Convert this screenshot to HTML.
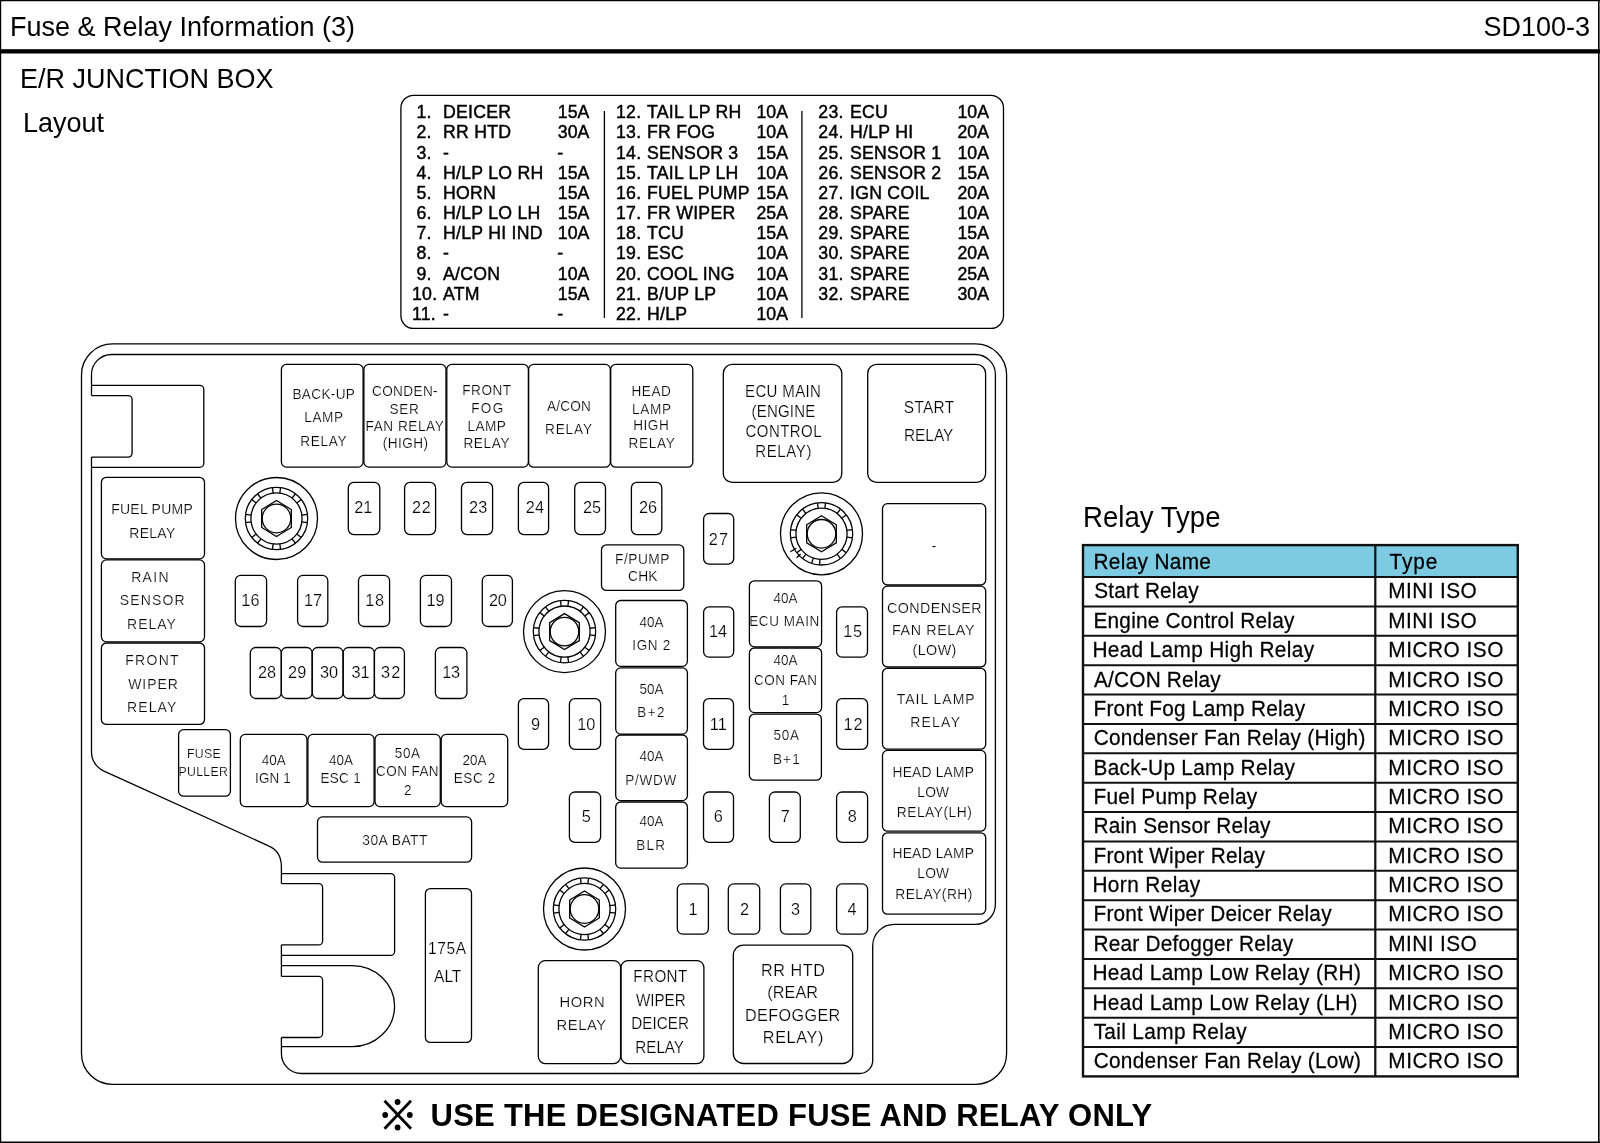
<!DOCTYPE html>
<html><head><meta charset="utf-8"><title>Fuse &amp; Relay Information (3)</title>
<style>
html,body{margin:0;padding:0;background:#fff;}
body{width:1600px;height:1143px;overflow:hidden;}
svg{display:block;will-change:transform;}
text{font-family:"Liberation Sans",sans-serif;fill:#000;}
.hv{stroke:#000;stroke-width:0.45px;letter-spacing:0.25px;}
.hn{stroke:#000;stroke-width:0.45px;}
.lt{stroke:#fff;stroke-width:0.2px;}
.tb{stroke:#000;stroke-width:0.25px;}
.l{fill:none;stroke:#000;stroke-width:1.3;}
</style></head>
<body>
<svg width="1600" height="1143" viewBox="0 0 1600 1143">
<rect x="0" y="49.2" width="1600" height="4.3" fill="#000"/>
<line x1="0" y1="0.5" x2="1600" y2="0.5" stroke="#000" stroke-width="1.4"/>
<line x1="0.5" y1="0" x2="0.5" y2="1143" stroke="#000" stroke-width="1.4"/>
<line x1="1598.8" y1="0" x2="1598.8" y2="1143" stroke="#000" stroke-width="1.6"/>
<line x1="0" y1="1142.3" x2="1600" y2="1142.3" stroke="#000" stroke-width="1.6"/>
<text transform="matrix(1 0 0 1.04 10.00 36.00)" font-size="27" text-anchor="start">Fuse &amp; Relay Information (3)</text>
<text transform="matrix(1 0 0 1.04 1590.00 36.00)" font-size="27" text-anchor="end">SD100-3</text>
<text transform="matrix(1 0 0 1.04 20.00 88.00)" font-size="27" text-anchor="start">E/R JUNCTION BOX</text>
<text transform="matrix(1 0 0 1.04 23.00 132.00)" font-size="27" text-anchor="start">Layout</text>
<rect x="400.9" y="95.3" width="602.6" height="233.1" rx="12.6" ry="12.6" class="l"/>
<line x1="604.4" y1="111" x2="604.4" y2="318" class="l"/>
<line x1="801.9" y1="111" x2="801.9" y2="318" class="l"/>
<text transform="matrix(1 0 0 1.04 416.50 117.80)" font-size="17.7" text-anchor="start" class="hv">1.</text>
<text transform="matrix(1 0 0 1.04 443.00 117.80)" font-size="17.7" text-anchor="start" class="hv">DEICER</text>
<text transform="matrix(1 0 0 1.04 589.30 117.80)" font-size="17.7" text-anchor="end" class="hn">15A</text>
<text transform="matrix(1 0 0 1.04 416.50 138.40)" font-size="17.7" text-anchor="start" class="hv">2.</text>
<text transform="matrix(1 0 0 1.04 443.00 138.40)" font-size="17.7" text-anchor="start" class="hv">RR HTD</text>
<text transform="matrix(1 0 0 1.04 589.30 138.40)" font-size="17.7" text-anchor="end" class="hn">30A</text>
<text transform="matrix(1 0 0 1.04 416.50 158.60)" font-size="17.7" text-anchor="start" class="hv">3.</text>
<text transform="matrix(1 0 0 1.04 443.00 158.60)" font-size="17.7" text-anchor="start" class="hv">-</text>
<text transform="matrix(1 0 0 1.04 557.20 158.60)" font-size="17.7" text-anchor="start" class="hn">-</text>
<text transform="matrix(1 0 0 1.04 416.50 178.60)" font-size="17.7" text-anchor="start" class="hv">4.</text>
<text transform="matrix(1 0 0 1.04 443.00 178.60)" font-size="17.7" text-anchor="start" class="hv">H/LP LO RH</text>
<text transform="matrix(1 0 0 1.04 589.30 178.60)" font-size="17.7" text-anchor="end" class="hn">15A</text>
<text transform="matrix(1 0 0 1.04 416.50 198.70)" font-size="17.7" text-anchor="start" class="hv">5.</text>
<text transform="matrix(1 0 0 1.04 443.00 198.70)" font-size="17.7" text-anchor="start" class="hv">HORN</text>
<text transform="matrix(1 0 0 1.04 589.30 198.70)" font-size="17.7" text-anchor="end" class="hn">15A</text>
<text transform="matrix(1 0 0 1.04 416.50 218.80)" font-size="17.7" text-anchor="start" class="hv">6.</text>
<text transform="matrix(1 0 0 1.04 443.00 218.80)" font-size="17.7" text-anchor="start" class="hv">H/LP LO LH</text>
<text transform="matrix(1 0 0 1.04 589.30 218.80)" font-size="17.7" text-anchor="end" class="hn">15A</text>
<text transform="matrix(1 0 0 1.04 416.50 238.70)" font-size="17.7" text-anchor="start" class="hv">7.</text>
<text transform="matrix(1 0 0 1.04 443.00 238.70)" font-size="17.7" text-anchor="start" class="hv">H/LP HI IND</text>
<text transform="matrix(1 0 0 1.04 589.30 238.70)" font-size="17.7" text-anchor="end" class="hn">10A</text>
<text transform="matrix(1 0 0 1.04 416.50 258.60)" font-size="17.7" text-anchor="start" class="hv">8.</text>
<text transform="matrix(1 0 0 1.04 443.00 258.60)" font-size="17.7" text-anchor="start" class="hv">-</text>
<text transform="matrix(1 0 0 1.04 557.20 258.60)" font-size="17.7" text-anchor="start" class="hn">-</text>
<text transform="matrix(1 0 0 1.04 416.50 279.60)" font-size="17.7" text-anchor="start" class="hv">9.</text>
<text transform="matrix(1 0 0 1.04 443.00 279.60)" font-size="17.7" text-anchor="start" class="hv">A/CON</text>
<text transform="matrix(1 0 0 1.04 589.30 279.60)" font-size="17.7" text-anchor="end" class="hn">10A</text>
<text transform="matrix(1 0 0 1.04 412.00 299.50)" font-size="17.7" text-anchor="start" class="hv">10.</text>
<text transform="matrix(1 0 0 1.04 443.00 299.50)" font-size="17.7" text-anchor="start" class="hv">ATM</text>
<text transform="matrix(1 0 0 1.04 589.30 299.50)" font-size="17.7" text-anchor="end" class="hn">15A</text>
<text transform="matrix(1 0 0 1.04 412.00 319.50)" font-size="17.7" text-anchor="start" class="hv">11.</text>
<text transform="matrix(1 0 0 1.04 443.00 319.50)" font-size="17.7" text-anchor="start" class="hv">-</text>
<text transform="matrix(1 0 0 1.04 557.20 319.50)" font-size="17.7" text-anchor="start" class="hn">-</text>
<text transform="matrix(1 0 0 1.04 616.00 117.80)" font-size="17.7" text-anchor="start" class="hv">12.</text>
<text transform="matrix(1 0 0 1.04 647.00 117.80)" font-size="17.7" text-anchor="start" class="hv">TAIL LP RH</text>
<text transform="matrix(1 0 0 1.04 788.00 117.80)" font-size="17.7" text-anchor="end" class="hn">10A</text>
<text transform="matrix(1 0 0 1.04 616.00 138.40)" font-size="17.7" text-anchor="start" class="hv">13.</text>
<text transform="matrix(1 0 0 1.04 647.00 138.40)" font-size="17.7" text-anchor="start" class="hv">FR FOG</text>
<text transform="matrix(1 0 0 1.04 788.00 138.40)" font-size="17.7" text-anchor="end" class="hn">10A</text>
<text transform="matrix(1 0 0 1.04 616.00 158.60)" font-size="17.7" text-anchor="start" class="hv">14.</text>
<text transform="matrix(1 0 0 1.04 647.00 158.60)" font-size="17.7" text-anchor="start" class="hv">SENSOR 3</text>
<text transform="matrix(1 0 0 1.04 788.00 158.60)" font-size="17.7" text-anchor="end" class="hn">15A</text>
<text transform="matrix(1 0 0 1.04 616.00 178.60)" font-size="17.7" text-anchor="start" class="hv">15.</text>
<text transform="matrix(1 0 0 1.04 647.00 178.60)" font-size="17.7" text-anchor="start" class="hv">TAIL LP LH</text>
<text transform="matrix(1 0 0 1.04 788.00 178.60)" font-size="17.7" text-anchor="end" class="hn">10A</text>
<text transform="matrix(1 0 0 1.04 616.00 198.70)" font-size="17.7" text-anchor="start" class="hv">16.</text>
<text transform="matrix(1 0 0 1.04 647.00 198.70)" font-size="17.7" text-anchor="start" class="hv">FUEL PUMP</text>
<text transform="matrix(1 0 0 1.04 788.00 198.70)" font-size="17.7" text-anchor="end" class="hn">15A</text>
<text transform="matrix(1 0 0 1.04 616.00 218.80)" font-size="17.7" text-anchor="start" class="hv">17.</text>
<text transform="matrix(1 0 0 1.04 647.00 218.80)" font-size="17.7" text-anchor="start" class="hv">FR WIPER</text>
<text transform="matrix(1 0 0 1.04 788.00 218.80)" font-size="17.7" text-anchor="end" class="hn">25A</text>
<text transform="matrix(1 0 0 1.04 616.00 238.70)" font-size="17.7" text-anchor="start" class="hv">18.</text>
<text transform="matrix(1 0 0 1.04 647.00 238.70)" font-size="17.7" text-anchor="start" class="hv">TCU</text>
<text transform="matrix(1 0 0 1.04 788.00 238.70)" font-size="17.7" text-anchor="end" class="hn">15A</text>
<text transform="matrix(1 0 0 1.04 616.00 258.60)" font-size="17.7" text-anchor="start" class="hv">19.</text>
<text transform="matrix(1 0 0 1.04 647.00 258.60)" font-size="17.7" text-anchor="start" class="hv">ESC</text>
<text transform="matrix(1 0 0 1.04 788.00 258.60)" font-size="17.7" text-anchor="end" class="hn">10A</text>
<text transform="matrix(1 0 0 1.04 616.00 279.60)" font-size="17.7" text-anchor="start" class="hv">20.</text>
<text transform="matrix(1 0 0 1.04 647.00 279.60)" font-size="17.7" text-anchor="start" class="hv">COOL ING</text>
<text transform="matrix(1 0 0 1.04 788.00 279.60)" font-size="17.7" text-anchor="end" class="hn">10A</text>
<text transform="matrix(1 0 0 1.04 616.00 299.50)" font-size="17.7" text-anchor="start" class="hv">21.</text>
<text transform="matrix(1 0 0 1.04 647.00 299.50)" font-size="17.7" text-anchor="start" class="hv">B/UP LP</text>
<text transform="matrix(1 0 0 1.04 788.00 299.50)" font-size="17.7" text-anchor="end" class="hn">10A</text>
<text transform="matrix(1 0 0 1.04 616.00 319.50)" font-size="17.7" text-anchor="start" class="hv">22.</text>
<text transform="matrix(1 0 0 1.04 647.00 319.50)" font-size="17.7" text-anchor="start" class="hv">H/LP</text>
<text transform="matrix(1 0 0 1.04 788.00 319.50)" font-size="17.7" text-anchor="end" class="hn">10A</text>
<text transform="matrix(1 0 0 1.04 818.30 117.80)" font-size="17.7" text-anchor="start" class="hv">23.</text>
<text transform="matrix(1 0 0 1.04 850.00 117.80)" font-size="17.7" text-anchor="start" class="hv">ECU</text>
<text transform="matrix(1 0 0 1.04 989.00 117.80)" font-size="17.7" text-anchor="end" class="hn">10A</text>
<text transform="matrix(1 0 0 1.04 818.30 138.40)" font-size="17.7" text-anchor="start" class="hv">24.</text>
<text transform="matrix(1 0 0 1.04 850.00 138.40)" font-size="17.7" text-anchor="start" class="hv">H/LP HI</text>
<text transform="matrix(1 0 0 1.04 989.00 138.40)" font-size="17.7" text-anchor="end" class="hn">20A</text>
<text transform="matrix(1 0 0 1.04 818.30 158.60)" font-size="17.7" text-anchor="start" class="hv">25.</text>
<text transform="matrix(1 0 0 1.04 850.00 158.60)" font-size="17.7" text-anchor="start" class="hv">SENSOR 1</text>
<text transform="matrix(1 0 0 1.04 989.00 158.60)" font-size="17.7" text-anchor="end" class="hn">10A</text>
<text transform="matrix(1 0 0 1.04 818.30 178.60)" font-size="17.7" text-anchor="start" class="hv">26.</text>
<text transform="matrix(1 0 0 1.04 850.00 178.60)" font-size="17.7" text-anchor="start" class="hv">SENSOR 2</text>
<text transform="matrix(1 0 0 1.04 989.00 178.60)" font-size="17.7" text-anchor="end" class="hn">15A</text>
<text transform="matrix(1 0 0 1.04 818.30 198.70)" font-size="17.7" text-anchor="start" class="hv">27.</text>
<text transform="matrix(1 0 0 1.04 850.00 198.70)" font-size="17.7" text-anchor="start" class="hv">IGN COIL</text>
<text transform="matrix(1 0 0 1.04 989.00 198.70)" font-size="17.7" text-anchor="end" class="hn">20A</text>
<text transform="matrix(1 0 0 1.04 818.30 218.80)" font-size="17.7" text-anchor="start" class="hv">28.</text>
<text transform="matrix(1 0 0 1.04 850.00 218.80)" font-size="17.7" text-anchor="start" class="hv">SPARE</text>
<text transform="matrix(1 0 0 1.04 989.00 218.80)" font-size="17.7" text-anchor="end" class="hn">10A</text>
<text transform="matrix(1 0 0 1.04 818.30 238.70)" font-size="17.7" text-anchor="start" class="hv">29.</text>
<text transform="matrix(1 0 0 1.04 850.00 238.70)" font-size="17.7" text-anchor="start" class="hv">SPARE</text>
<text transform="matrix(1 0 0 1.04 989.00 238.70)" font-size="17.7" text-anchor="end" class="hn">15A</text>
<text transform="matrix(1 0 0 1.04 818.30 258.60)" font-size="17.7" text-anchor="start" class="hv">30.</text>
<text transform="matrix(1 0 0 1.04 850.00 258.60)" font-size="17.7" text-anchor="start" class="hv">SPARE</text>
<text transform="matrix(1 0 0 1.04 989.00 258.60)" font-size="17.7" text-anchor="end" class="hn">20A</text>
<text transform="matrix(1 0 0 1.04 818.30 279.60)" font-size="17.7" text-anchor="start" class="hv">31.</text>
<text transform="matrix(1 0 0 1.04 850.00 279.60)" font-size="17.7" text-anchor="start" class="hv">SPARE</text>
<text transform="matrix(1 0 0 1.04 989.00 279.60)" font-size="17.7" text-anchor="end" class="hn">25A</text>
<text transform="matrix(1 0 0 1.04 818.30 299.50)" font-size="17.7" text-anchor="start" class="hv">32.</text>
<text transform="matrix(1 0 0 1.04 850.00 299.50)" font-size="17.7" text-anchor="start" class="hv">SPARE</text>
<text transform="matrix(1 0 0 1.04 989.00 299.50)" font-size="17.7" text-anchor="end" class="hn">30A</text>
<rect x="81.5" y="343.9" width="925.1" height="740.5" rx="31" ry="31" class="l"/>
<path d="M 91.5 374.5 A 20 20 0 0 1 111.5 354.5 L 975.4 354.5 A 20 20 0 0 1 995.4 374.5 L 995.4 904.3 A 20 20 0 0 1 975.4 924.3 L 894.2 924.3 A 21.5 21.5 0 0 0 872.7 945.8 L 872.7 1060.3 A 13 13 0 0 1 859.7 1073.5 L 301.4 1073.5 A 20 20 0 0 1 281.4 1053.5 L 281.4 1037.5 M 281.4 976.4 L 281.4 944.9 M 281.4 883.6 L 281.4 866 Q 281 851 268.5 845.8 L 104 771.2 Q 92 765 91.5 752.5 L 91.5 457.1 M 91.5 395.6 L 91.5 374.5" class="l"/>
<path d="M 91.5 385.4 L 199.8 385.4 A 4 4 0 0 1 203.8 389.4 L 203.8 463.3 A 4 4 0 0 1 199.8 467.3 L 91.5 467.3" class="l"/>
<path d="M 91.5 395.6 L 128.1 395.6 A 4 4 0 0 1 132.1 399.6 L 132.1 453.1 A 4 4 0 0 1 128.1 457.1 L 91.5 457.1" class="l"/>
<path d="M 281.4 873.6 L 390.6 873.6 A 4 4 0 0 1 394.6 877.6 L 394.6 951.4 A 4 4 0 0 1 390.6 955.4 L 281.4 955.4" class="l"/>
<path d="M 281.4 883.6 L 318.6 883.6 A 4 4 0 0 1 322.6 887.6 L 322.6 940.9 A 4 4 0 0 1 318.6 944.9 L 281.4 944.9" class="l"/>
<path d="M 281.4 976.4 L 318.6 976.4 A 4 4 0 0 1 322.6 980.4 L 322.6 1033.5 A 4 4 0 0 1 318.6 1037.5 L 281.4 1037.5" class="l"/>
<path d="M 281.4 965.7 L 352.1 965.7 A 42.5 40.5 0 0 1 352.1 1046.7 L 281.4 1046.7" class="l"/>
<rect x="281.4" y="364.4" width="81.7" height="102.7" rx="5" ry="5" class="l"/>
<text transform="matrix(1 0 0 1.04 292.48 398.90)" font-size="13.6" textLength="62.43" lengthAdjust="spacing" class="lt">BACK-UP</text>
<text transform="matrix(1 0 0 1.04 304.28 421.60)" font-size="13.6" textLength="38.73" lengthAdjust="spacing" class="lt">LAMP</text>
<text transform="matrix(1 0 0 1.04 300.28 445.80)" font-size="13.6" textLength="46.41" lengthAdjust="spacing" class="lt">RELAY</text>
<rect x="363.9" y="364.4" width="82.1" height="102.7" rx="5" ry="5" class="l"/>
<text transform="matrix(1 0 0 1.04 372.01 395.60)" font-size="13.6" textLength="65.59" lengthAdjust="spacing" class="lt">CONDEN-</text>
<text transform="matrix(1 0 0 1.04 389.58 413.50)" font-size="13.6" textLength="29.25" lengthAdjust="spacing" class="lt">SER</text>
<text transform="matrix(1 0 0 1.04 365.58 430.60)" font-size="13.6" textLength="78.21" lengthAdjust="spacing" class="lt">FAN RELAY</text>
<text transform="matrix(1 0 0 1.04 382.86 448.40)" font-size="13.6" textLength="45.29" lengthAdjust="spacing" class="lt">(HIGH)</text>
<rect x="446.8" y="364.4" width="81.6" height="102.7" rx="5" ry="5" class="l"/>
<text transform="matrix(1 0 0 1.04 462.28 395.30)" font-size="13.6" textLength="48.83" lengthAdjust="spacing" class="lt">FRONT</text>
<text transform="matrix(1 0 0 1.04 471.18 413.20)" font-size="13.6" textLength="32.23" lengthAdjust="spacing" class="lt">FOG</text>
<text transform="matrix(1 0 0 1.04 467.48 430.60)" font-size="13.6" textLength="38.33" lengthAdjust="spacing" class="lt">LAMP</text>
<text transform="matrix(1 0 0 1.04 463.38 448.40)" font-size="13.6" textLength="46.11" lengthAdjust="spacing" class="lt">RELAY</text>
<rect x="528.6" y="364.4" width="81.7" height="102.8" rx="5" ry="5" class="l"/>
<text transform="matrix(1 0 0 1.04 546.97 410.80)" font-size="13.6" textLength="43.84" lengthAdjust="spacing" class="lt">A/CON</text>
<text transform="matrix(1 0 0 1.04 545.08 433.70)" font-size="13.6" textLength="46.91" lengthAdjust="spacing" class="lt">RELAY</text>
<rect x="610.7" y="364.4" width="82.1" height="102.8" rx="5" ry="5" class="l"/>
<text transform="matrix(1 0 0 1.04 631.38 395.80)" font-size="13.6" textLength="39.57" lengthAdjust="spacing" class="lt">HEAD</text>
<text transform="matrix(1 0 0 1.04 632.08 413.50)" font-size="13.6" textLength="38.93" lengthAdjust="spacing" class="lt">LAMP</text>
<text transform="matrix(1 0 0 1.04 633.18 430.30)" font-size="13.6" textLength="35.62" lengthAdjust="spacing" class="lt">HIGH</text>
<text transform="matrix(1 0 0 1.04 628.38 448.30)" font-size="13.6" textLength="46.41" lengthAdjust="spacing" class="lt">RELAY</text>
<rect x="723.3" y="364.4" width="118.5" height="118.0" rx="9" ry="9" class="l"/>
<text transform="matrix(1 0 0 1.04 745.07 397.00)" font-size="15" textLength="75.85" lengthAdjust="spacing" class="lt">ECU MAIN</text>
<text transform="matrix(1 0 0 1.04 751.47 416.70)" font-size="15" textLength="63.77" lengthAdjust="spacing" class="lt">(ENGINE</text>
<text transform="matrix(1 0 0 1.04 745.54 436.80)" font-size="15" textLength="75.96" lengthAdjust="spacing" class="lt">CONTROL</text>
<text transform="matrix(1 0 0 1.04 755.27 457.00)" font-size="15" textLength="56.16" lengthAdjust="spacing" class="lt">RELAY)</text>
<rect x="867.7" y="364.4" width="117.9" height="118.0" rx="9" ry="9" class="l"/>
<text transform="matrix(1 0 0 1.04 903.80 412.80)" font-size="15.4" textLength="50.35" lengthAdjust="spacing" class="lt">START</text>
<text transform="matrix(1 0 0 1.04 928.65 440.90)" font-size="15.4" text-anchor="middle" class="lt">RELAY</text>
<rect x="101.4" y="477.3" width="103.1" height="81.5" rx="5" ry="5" class="l"/>
<text transform="matrix(1 0 0 1.04 111.15 514.40)" font-size="14" textLength="81.59" lengthAdjust="spacing" class="lt">FUEL PUMP</text>
<text transform="matrix(1 0 0 1.04 129.35 538.30)" font-size="14" textLength="45.86" lengthAdjust="spacing" class="lt">RELAY</text>
<rect x="101.4" y="559.9" width="103.1" height="81.9" rx="5" ry="5" class="l"/>
<text transform="matrix(1 0 0 1.04 131.15 582.00)" font-size="14" textLength="37.39" lengthAdjust="spacing" class="lt">RAIN</text>
<text transform="matrix(1 0 0 1.04 119.66 605.40)" font-size="14" textLength="64.99" lengthAdjust="spacing" class="lt">SENSOR</text>
<text transform="matrix(1 0 0 1.04 127.05 629.30)" font-size="14" textLength="48.86" lengthAdjust="spacing" class="lt">RELAY</text>
<rect x="101.4" y="643.0" width="103.1" height="81.4" rx="5" ry="5" class="l"/>
<text transform="matrix(1 0 0 1.04 125.25 665.30)" font-size="14" textLength="53.37" lengthAdjust="spacing" class="lt">FRONT</text>
<text transform="matrix(1 0 0 1.04 128.14 688.50)" font-size="14" textLength="49.71" lengthAdjust="spacing" class="lt">WIPER</text>
<text transform="matrix(1 0 0 1.04 127.05 712.40)" font-size="14" textLength="49.26" lengthAdjust="spacing" class="lt">RELAY</text>
<rect x="178.6" y="729.7" width="51.8" height="66.5" rx="5" ry="5" class="l"/>
<text transform="matrix(1 0 0 1.04 186.89 757.70)" font-size="12.3" textLength="33.84" lengthAdjust="spacing" class="lt">FUSE</text>
<text transform="matrix(1 0 0 1.04 178.59 775.60)" font-size="12.3" textLength="49.18" lengthAdjust="spacing" class="lt">PULLER</text>
<rect x="348.3" y="482.4" width="31.5" height="52.2" rx="5.5" ry="5.5" class="l"/>
<text transform="matrix(1 0 0 1.04 363.18 512.80)" font-size="16.3" text-anchor="middle" class="lt">21</text>
<rect x="404.6" y="482.4" width="31.0" height="52.2" rx="5.5" ry="5.5" class="l"/>
<text transform="matrix(1 0 0 1.04 411.98 512.80)" font-size="16.3" textLength="18.94" lengthAdjust="spacing" class="lt">22</text>
<rect x="461.5" y="482.4" width="31.1" height="52.2" rx="5.5" ry="5.5" class="l"/>
<text transform="matrix(1 0 0 1.04 478.15 512.80)" font-size="16.3" text-anchor="middle" class="lt">23</text>
<rect x="518.4" y="482.4" width="30.2" height="52.2" rx="5.5" ry="5.5" class="l"/>
<text transform="matrix(1 0 0 1.04 534.90 512.80)" font-size="16.3" text-anchor="middle" class="lt">24</text>
<rect x="574.7" y="482.4" width="30.8" height="52.2" rx="5.5" ry="5.5" class="l"/>
<text transform="matrix(1 0 0 1.04 582.88 512.80)" font-size="16.3" textLength="18.10" lengthAdjust="spacing" class="lt">25</text>
<rect x="631.4" y="482.4" width="30.4" height="52.2" rx="5.5" ry="5.5" class="l"/>
<text transform="matrix(1 0 0 1.04 648.10 512.80)" font-size="16.3" text-anchor="middle" class="lt">26</text>
<rect x="235.3" y="575.3" width="31.3" height="51.2" rx="5.5" ry="5.5" class="l"/>
<text transform="matrix(1 0 0 1.04 241.16 605.90)" font-size="16.3" textLength="18.31" lengthAdjust="spacing" class="lt">16</text>
<rect x="297.6" y="575.3" width="30.2" height="51.2" rx="5.5" ry="5.5" class="l"/>
<text transform="matrix(1 0 0 1.04 304.06 605.90)" font-size="16.3" textLength="17.96" lengthAdjust="spacing" class="lt">17</text>
<rect x="358.5" y="575.3" width="31.1" height="51.2" rx="5.5" ry="5.5" class="l"/>
<text transform="matrix(1 0 0 1.04 365.36 605.90)" font-size="16.3" textLength="18.75" lengthAdjust="spacing" class="lt">18</text>
<rect x="420.4" y="575.3" width="31.1" height="51.2" rx="5.5" ry="5.5" class="l"/>
<text transform="matrix(1 0 0 1.04 435.45 605.90)" font-size="16.3" text-anchor="middle" class="lt">19</text>
<rect x="482.3" y="575.3" width="30.1" height="51.2" rx="5.5" ry="5.5" class="l"/>
<text transform="matrix(1 0 0 1.04 488.98 605.90)" font-size="16.3" textLength="17.96" lengthAdjust="spacing" class="lt">20</text>
<rect x="250.3" y="647.5" width="31.0" height="51.0" rx="5.5" ry="5.5" class="l"/>
<text transform="matrix(1 0 0 1.04 257.93 677.50)" font-size="16.3" textLength="18.03" lengthAdjust="spacing" class="lt">28</text>
<rect x="281.3" y="647.5" width="30.9" height="51.0" rx="5.5" ry="5.5" class="l"/>
<text transform="matrix(1 0 0 1.04 287.93 677.50)" font-size="16.3" textLength="18.44" lengthAdjust="spacing" class="lt">29</text>
<rect x="312.2" y="647.5" width="30.9" height="51.0" rx="5.5" ry="5.5" class="l"/>
<text transform="matrix(1 0 0 1.04 319.98 677.50)" font-size="16.3" textLength="18.16" lengthAdjust="spacing" class="lt">30</text>
<rect x="343.1" y="647.5" width="31.3" height="51.0" rx="5.5" ry="5.5" class="l"/>
<text transform="matrix(1 0 0 1.04 360.45 677.50)" font-size="16.3" text-anchor="middle" class="lt">31</text>
<rect x="374.4" y="647.5" width="30.0" height="51.0" rx="5.5" ry="5.5" class="l"/>
<text transform="matrix(1 0 0 1.04 380.98 677.50)" font-size="16.3" textLength="19.24" lengthAdjust="spacing" class="lt">32</text>
<rect x="435.4" y="647.5" width="31.5" height="51.0" rx="5.5" ry="5.5" class="l"/>
<text transform="matrix(1 0 0 1.04 442.16 677.50)" font-size="16.3" textLength="17.96" lengthAdjust="spacing" class="lt">13</text>
<rect x="703.6" y="513.5" width="30.1" height="50.6" rx="5.5" ry="5.5" class="l"/>
<text transform="matrix(1 0 0 1.04 708.68 545.10)" font-size="16.3" textLength="19.44" lengthAdjust="spacing" class="lt">27</text>
<rect x="703.6" y="606.9" width="30.1" height="50.3" rx="5.5" ry="5.5" class="l"/>
<text transform="matrix(1 0 0 1.04 708.96 637.30)" font-size="16.3" textLength="18.12" lengthAdjust="spacing" class="lt">14</text>
<rect x="836.6" y="606.9" width="30.9" height="50.3" rx="5.5" ry="5.5" class="l"/>
<text transform="matrix(1 0 0 1.04 843.16 637.30)" font-size="16.3" textLength="19.03" lengthAdjust="spacing" class="lt">15</text>
<rect x="518.4" y="698.7" width="30.2" height="50.6" rx="5.5" ry="5.5" class="l"/>
<text transform="matrix(1 0 0 1.04 535.45 729.80)" font-size="16.3" text-anchor="middle" class="lt">9</text>
<rect x="569.4" y="698.7" width="31.2" height="50.6" rx="5.5" ry="5.5" class="l"/>
<text transform="matrix(1 0 0 1.04 586.25 729.80)" font-size="16.3" text-anchor="middle" class="lt">10</text>
<rect x="703.5" y="698.7" width="30.0" height="50.6" rx="5.5" ry="5.5" class="l"/>
<text transform="matrix(1 0 0 1.04 718.25 729.80)" font-size="16.3" text-anchor="middle" class="lt">11</text>
<rect x="836.6" y="698.7" width="31.0" height="50.6" rx="5.5" ry="5.5" class="l"/>
<text transform="matrix(1 0 0 1.04 843.56 729.80)" font-size="16.3" textLength="18.96" lengthAdjust="spacing" class="lt">12</text>
<rect x="569.4" y="792.0" width="31.2" height="50.3" rx="5.5" ry="5.5" class="l"/>
<text transform="matrix(1 0 0 1.04 586.40 822.00)" font-size="16.3" text-anchor="middle" class="lt">5</text>
<rect x="703.5" y="792.0" width="30.0" height="50.3" rx="5.5" ry="5.5" class="l"/>
<text transform="matrix(1 0 0 1.04 718.40 822.00)" font-size="16.3" text-anchor="middle" class="lt">6</text>
<rect x="769.4" y="792.0" width="30.9" height="50.3" rx="5.5" ry="5.5" class="l"/>
<text transform="matrix(1 0 0 1.04 785.25 822.00)" font-size="16.3" text-anchor="middle" class="lt">7</text>
<rect x="836.6" y="792.0" width="31.0" height="50.3" rx="5.5" ry="5.5" class="l"/>
<text transform="matrix(1 0 0 1.04 852.40 822.00)" font-size="16.3" text-anchor="middle" class="lt">8</text>
<rect x="677.3" y="883.8" width="31.1" height="50.4" rx="5.5" ry="5.5" class="l"/>
<text transform="matrix(1 0 0 1.04 693.05 915.00)" font-size="16.3" text-anchor="middle" class="lt">1</text>
<rect x="728.3" y="883.8" width="31.4" height="50.4" rx="5.5" ry="5.5" class="l"/>
<text transform="matrix(1 0 0 1.04 744.60 915.00)" font-size="16.3" text-anchor="middle" class="lt">2</text>
<rect x="780.4" y="883.8" width="30.4" height="50.4" rx="5.5" ry="5.5" class="l"/>
<text transform="matrix(1 0 0 1.04 795.50 915.00)" font-size="16.3" text-anchor="middle" class="lt">3</text>
<rect x="836.6" y="883.8" width="31.0" height="50.4" rx="5.5" ry="5.5" class="l"/>
<text transform="matrix(1 0 0 1.04 852.05 915.00)" font-size="16.3" text-anchor="middle" class="lt">4</text>
<rect x="601.5" y="544.8" width="82.3" height="45.6" rx="5" ry="5" class="l"/>
<text transform="matrix(1 0 0 1.04 615.07 563.90)" font-size="13.8" textLength="54.36" lengthAdjust="spacing" class="lt">F/PUMP</text>
<text transform="matrix(1 0 0 1.04 628.10 580.80)" font-size="13.8" textLength="29.36" lengthAdjust="spacing" class="lt">CHK</text>
<rect x="615.7" y="600.5" width="71.7" height="65.8" rx="5" ry="5" class="l"/>
<text transform="matrix(1 0 0 1.04 651.55 627.00)" font-size="13.5" text-anchor="middle" class="lt">40A</text>
<text transform="matrix(1 0 0 1.04 632.25 649.60)" font-size="13.5" textLength="38.02" lengthAdjust="spacing" class="lt">IGN 2</text>
<rect x="615.7" y="667.9" width="71.7" height="66.2" rx="5" ry="5" class="l"/>
<text transform="matrix(1 0 0 1.04 651.55 693.60)" font-size="13.5" text-anchor="middle" class="lt">50A</text>
<text transform="matrix(1 0 0 1.04 637.19 716.60)" font-size="13.5" textLength="27.39" lengthAdjust="spacing" class="lt">B+2</text>
<rect x="615.7" y="735.0" width="71.7" height="65.6" rx="5" ry="5" class="l"/>
<text transform="matrix(1 0 0 1.04 651.55 761.00)" font-size="13.5" text-anchor="middle" class="lt">40A</text>
<text transform="matrix(1 0 0 1.04 625.29 784.90)" font-size="13.5" textLength="50.85" lengthAdjust="spacing" class="lt">P/WDW</text>
<rect x="615.7" y="802.0" width="71.7" height="66.1" rx="5" ry="5" class="l"/>
<text transform="matrix(1 0 0 1.04 651.55 825.90)" font-size="13.5" text-anchor="middle" class="lt">40A</text>
<text transform="matrix(1 0 0 1.04 636.29 850.00)" font-size="13.5" textLength="28.73" lengthAdjust="spacing" class="lt">BLR</text>
<rect x="749.4" y="580.8" width="72.2" height="66.0" rx="5" ry="5" class="l"/>
<text transform="matrix(1 0 0 1.04 785.50 602.60)" font-size="13.5" text-anchor="middle" class="lt">40A</text>
<text transform="matrix(1 0 0 1.04 749.29 625.90)" font-size="13.5" textLength="69.91" lengthAdjust="spacing" class="lt">ECU MAIN</text>
<rect x="749.4" y="648.0" width="72.2" height="64.6" rx="5" ry="5" class="l"/>
<text transform="matrix(1 0 0 1.04 785.50 665.00)" font-size="13.5" text-anchor="middle" class="lt">40A</text>
<text transform="matrix(1 0 0 1.04 754.01 684.80)" font-size="13.5" textLength="62.99" lengthAdjust="spacing" class="lt">CON FAN</text>
<text transform="matrix(1 0 0 1.04 785.50 704.70)" font-size="13.5" text-anchor="middle" class="lt">1</text>
<rect x="749.4" y="714.1" width="72.0" height="66.1" rx="5" ry="5" class="l"/>
<text transform="matrix(1 0 0 1.04 773.46 739.70)" font-size="13.5" textLength="25.67" lengthAdjust="spacing" class="lt">50A</text>
<text transform="matrix(1 0 0 1.04 772.89 763.80)" font-size="13.5" textLength="26.87" lengthAdjust="spacing" class="lt">B+1</text>
<rect x="240.3" y="734.4" width="66.7" height="72.2" rx="5" ry="5" class="l"/>
<text transform="matrix(1 0 0 1.04 273.65 764.90)" font-size="13.5" text-anchor="middle" class="lt">40A</text>
<text transform="matrix(1 0 0 1.04 255.05 783.00)" font-size="13.5" textLength="35.81" lengthAdjust="spacing" class="lt">IGN 1</text>
<rect x="307.9" y="734.4" width="66.2" height="72.2" rx="5" ry="5" class="l"/>
<text transform="matrix(1 0 0 1.04 341.00 764.90)" font-size="13.5" text-anchor="middle" class="lt">40A</text>
<text transform="matrix(1 0 0 1.04 320.39 783.00)" font-size="13.5" textLength="40.37" lengthAdjust="spacing" class="lt">ESC 1</text>
<rect x="375.0" y="734.4" width="65.3" height="72.2" rx="5" ry="5" class="l"/>
<text transform="matrix(1 0 0 1.04 394.76 758.00)" font-size="13.5" textLength="25.27" lengthAdjust="spacing" class="lt">50A</text>
<text transform="matrix(1 0 0 1.04 376.11 775.80)" font-size="13.5" textLength="62.49" lengthAdjust="spacing" class="lt">CON FAN</text>
<text transform="matrix(1 0 0 1.04 407.65 794.80)" font-size="13.5" text-anchor="middle" class="lt">2</text>
<rect x="441.2" y="734.4" width="66.5" height="72.2" rx="5" ry="5" class="l"/>
<text transform="matrix(1 0 0 1.04 474.45 764.90)" font-size="13.5" text-anchor="middle" class="lt">20A</text>
<text transform="matrix(1 0 0 1.04 453.69 783.00)" font-size="13.5" textLength="41.59" lengthAdjust="spacing" class="lt">ESC 2</text>
<rect x="317.5" y="816.9" width="154.1" height="45.3" rx="5" ry="5" class="l"/>
<text transform="matrix(1 0 0 1.04 362.37 844.60)" font-size="13.8" textLength="64.94" lengthAdjust="spacing" class="lt">30A BATT</text>
<rect x="425.4" y="888.6" width="46.1" height="153.8" rx="5" ry="5" class="l"/>
<text transform="matrix(1 0 0 1.04 428.12 953.90)" font-size="15.5" textLength="38.01" lengthAdjust="spacing" class="lt">175A</text>
<text transform="matrix(1 0 0 1.04 447.70 981.80)" font-size="15.5" text-anchor="middle" class="lt">ALT</text>
<rect x="882.5" y="503.7" width="103.2" height="81.3" rx="5" ry="5" class="l"/>
<text transform="matrix(1 0 0 1.04 934.10 551.00)" font-size="14" text-anchor="middle" class="lt">-</text>
<rect x="882.5" y="586.2" width="103.2" height="80.8" rx="5" ry="5" class="l"/>
<text transform="matrix(1 0 0 1.04 886.97 612.70)" font-size="14.3" textLength="94.69" lengthAdjust="spacing" class="lt">CONDENSER</text>
<text transform="matrix(1 0 0 1.04 891.93 634.80)" font-size="14.3" textLength="82.59" lengthAdjust="spacing" class="lt">FAN RELAY</text>
<text transform="matrix(1 0 0 1.04 912.41 655.00)" font-size="14.3" textLength="43.97" lengthAdjust="spacing" class="lt">(LOW)</text>
<rect x="882.5" y="668.3" width="103.2" height="80.9" rx="5" ry="5" class="l"/>
<text transform="matrix(1 0 0 1.04 896.79 704.40)" font-size="14" textLength="77.85" lengthAdjust="spacing" class="lt">TAIL LAMP</text>
<text transform="matrix(1 0 0 1.04 910.15 726.60)" font-size="14" textLength="49.86" lengthAdjust="spacing" class="lt">RELAY</text>
<rect x="882.5" y="750.4" width="103.2" height="80.8" rx="5" ry="5" class="l"/>
<text transform="matrix(1 0 0 1.04 892.47 777.30)" font-size="13.8" textLength="81.46" lengthAdjust="spacing" class="lt">HEAD LAMP</text>
<text transform="matrix(1 0 0 1.04 917.27 796.90)" font-size="13.8" textLength="31.88" lengthAdjust="spacing" class="lt">LOW</text>
<text transform="matrix(1 0 0 1.04 896.77 817.00)" font-size="13.8" textLength="75.09" lengthAdjust="spacing" class="lt">RELAY(LH)</text>
<rect x="882.5" y="832.8" width="103.2" height="81.4" rx="5" ry="5" class="l"/>
<text transform="matrix(1 0 0 1.04 892.47 858.30)" font-size="13.8" textLength="81.46" lengthAdjust="spacing" class="lt">HEAD LAMP</text>
<text transform="matrix(1 0 0 1.04 917.27 878.40)" font-size="13.8" textLength="31.88" lengthAdjust="spacing" class="lt">LOW</text>
<text transform="matrix(1 0 0 1.04 895.27 898.90)" font-size="13.8" textLength="77.09" lengthAdjust="spacing" class="lt">RELAY(RH)</text>
<rect x="538.3" y="960.6" width="82.3" height="103.0" rx="7" ry="7" class="l"/>
<text transform="matrix(1 0 0 1.04 559.39 1006.90)" font-size="14.8" textLength="45.32" lengthAdjust="spacing" class="lt">HORN</text>
<text transform="matrix(1 0 0 1.04 556.39 1029.90)" font-size="14.8" textLength="49.84" lengthAdjust="spacing" class="lt">RELAY</text>
<rect x="621.0" y="960.6" width="82.9" height="103.0" rx="7" ry="7" class="l"/>
<text transform="matrix(1 0 0 1.04 633.35 982.00)" font-size="15.2" textLength="53.90" lengthAdjust="spacing" class="lt">FRONT</text>
<text transform="matrix(1 0 0 1.04 635.93 1005.60)" font-size="15.2" textLength="49.77" lengthAdjust="spacing" class="lt">WIPER</text>
<text transform="matrix(1 0 0 1.04 631.15 1028.60)" font-size="15.2" textLength="57.75" lengthAdjust="spacing" class="lt">DEICER</text>
<text transform="matrix(1 0 0 1.04 659.65 1052.60)" font-size="15.2" text-anchor="middle" class="lt">RELAY</text>
<rect x="733.3" y="945.2" width="119.4" height="118.3" rx="10" ry="10" class="l"/>
<text transform="matrix(1 0 0 1.04 761.07 975.60)" font-size="16.2" textLength="63.90" lengthAdjust="spacing" class="lt">RR HTD</text>
<text transform="matrix(1 0 0 1.04 767.30 997.70)" font-size="16.2" textLength="50.76" lengthAdjust="spacing" class="lt">(REAR</text>
<text transform="matrix(1 0 0 1.04 745.07 1020.80)" font-size="16.2" textLength="95.18" lengthAdjust="spacing" class="lt">DEFOGGER</text>
<text transform="matrix(1 0 0 1.04 762.87 1042.90)" font-size="16.2" textLength="60.43" lengthAdjust="spacing" class="lt">RELAY)</text>
<g transform="translate(276.5,518.5)"><circle r="41" class="l"/><circle r="31.2" class="l"/><circle r="25.6" class="l"/><line x1="25.38" y1="-3.34" x2="30.93" y2="-4.07" class="l"/><line x1="25.38" y1="3.34" x2="30.93" y2="4.07" class="l"/><line x1="20.31" y1="15.58" x2="24.75" y2="18.99" class="l"/><line x1="15.58" y1="20.31" x2="18.99" y2="24.75" class="l"/><line x1="3.34" y1="25.38" x2="4.07" y2="30.93" class="l"/><line x1="-3.34" y1="25.38" x2="-4.07" y2="30.93" class="l"/><line x1="-15.58" y1="20.31" x2="-18.99" y2="24.75" class="l"/><line x1="-20.31" y1="15.58" x2="-24.75" y2="18.99" class="l"/><line x1="-25.38" y1="3.34" x2="-30.93" y2="4.07" class="l"/><line x1="-25.38" y1="-3.34" x2="-30.93" y2="-4.07" class="l"/><line x1="-20.31" y1="-15.58" x2="-24.75" y2="-18.99" class="l"/><line x1="-15.58" y1="-20.31" x2="-18.99" y2="-24.75" class="l"/><line x1="-3.34" y1="-25.38" x2="-4.07" y2="-30.93" class="l"/><line x1="3.34" y1="-25.38" x2="4.07" y2="-30.93" class="l"/><line x1="15.58" y1="-20.31" x2="18.99" y2="-24.75" class="l"/><line x1="20.31" y1="-15.58" x2="24.75" y2="-18.99" class="l"/><polygon points="0.00,-18.00 14.81,-9.00 14.81,9.00 0.00,18.00 -14.81,9.00 -14.81,-9.00" class="l"/><circle r="14.3" class="l"/></g>
<g transform="translate(821.5,533.8)"><circle r="41" class="l"/><circle r="31.2" class="l"/><circle r="25.6" class="l"/><line x1="25.38" y1="-3.34" x2="30.93" y2="-4.07" class="l"/><line x1="25.38" y1="3.34" x2="30.93" y2="4.07" class="l"/><line x1="20.31" y1="15.58" x2="24.75" y2="18.99" class="l"/><line x1="15.58" y1="20.31" x2="18.99" y2="24.75" class="l"/><line x1="-1.56" y1="25.55" x2="-1.90" y2="31.14" class="l"/><line x1="-8.12" y1="24.28" x2="-9.90" y2="29.59" class="l"/><line x1="-15.58" y1="20.31" x2="-18.99" y2="24.75" class="l"/><line x1="-20.31" y1="15.58" x2="-24.75" y2="18.99" class="l"/><line x1="-25.38" y1="3.34" x2="-30.93" y2="4.07" class="l"/><line x1="-25.38" y1="-3.34" x2="-30.93" y2="-4.07" class="l"/><line x1="-20.31" y1="-15.58" x2="-24.75" y2="-18.99" class="l"/><line x1="-15.58" y1="-20.31" x2="-18.99" y2="-24.75" class="l"/><line x1="-3.34" y1="-25.38" x2="-4.07" y2="-30.93" class="l"/><line x1="3.34" y1="-25.38" x2="4.07" y2="-30.93" class="l"/><line x1="15.58" y1="-20.31" x2="18.99" y2="-24.75" class="l"/><line x1="20.31" y1="-15.58" x2="24.75" y2="-18.99" class="l"/><line x1="-25.11" y1="14.50" x2="-31.18" y2="18.00" class="l"/><line x1="-20.86" y1="20.15" x2="-24.82" y2="23.97" class="l"/><polygon points="0.00,-18.00 14.81,-9.00 14.81,9.00 0.00,18.00 -14.81,9.00 -14.81,-9.00" class="l"/><circle r="14.3" class="l"/></g>
<g transform="translate(564.5,631.6)"><circle r="41" class="l"/><circle r="31.2" class="l"/><circle r="25.6" class="l"/><line x1="25.38" y1="-3.34" x2="30.93" y2="-4.07" class="l"/><line x1="25.38" y1="3.34" x2="30.93" y2="4.07" class="l"/><line x1="20.31" y1="15.58" x2="24.75" y2="18.99" class="l"/><line x1="15.58" y1="20.31" x2="18.99" y2="24.75" class="l"/><line x1="3.34" y1="25.38" x2="4.07" y2="30.93" class="l"/><line x1="-3.34" y1="25.38" x2="-4.07" y2="30.93" class="l"/><line x1="-15.58" y1="20.31" x2="-18.99" y2="24.75" class="l"/><line x1="-20.31" y1="15.58" x2="-24.75" y2="18.99" class="l"/><line x1="-25.38" y1="3.34" x2="-30.93" y2="4.07" class="l"/><line x1="-25.38" y1="-3.34" x2="-30.93" y2="-4.07" class="l"/><line x1="-20.31" y1="-15.58" x2="-24.75" y2="-18.99" class="l"/><line x1="-15.58" y1="-20.31" x2="-18.99" y2="-24.75" class="l"/><line x1="-3.34" y1="-25.38" x2="-4.07" y2="-30.93" class="l"/><line x1="3.34" y1="-25.38" x2="4.07" y2="-30.93" class="l"/><line x1="15.58" y1="-20.31" x2="18.99" y2="-24.75" class="l"/><line x1="20.31" y1="-15.58" x2="24.75" y2="-18.99" class="l"/><polygon points="0.00,-18.00 14.81,-9.00 14.81,9.00 0.00,18.00 -14.81,9.00 -14.81,-9.00" class="l"/><circle r="14.3" class="l"/></g>
<g transform="translate(584.5,909.0)"><circle r="41" class="l"/><circle r="31.2" class="l"/><circle r="25.6" class="l"/><line x1="25.38" y1="-3.34" x2="30.93" y2="-4.07" class="l"/><line x1="25.38" y1="3.34" x2="30.93" y2="4.07" class="l"/><line x1="20.31" y1="15.58" x2="24.75" y2="18.99" class="l"/><line x1="15.58" y1="20.31" x2="18.99" y2="24.75" class="l"/><line x1="3.34" y1="25.38" x2="4.07" y2="30.93" class="l"/><line x1="-3.34" y1="25.38" x2="-4.07" y2="30.93" class="l"/><line x1="-15.58" y1="20.31" x2="-18.99" y2="24.75" class="l"/><line x1="-20.31" y1="15.58" x2="-24.75" y2="18.99" class="l"/><line x1="-25.38" y1="3.34" x2="-30.93" y2="4.07" class="l"/><line x1="-25.38" y1="-3.34" x2="-30.93" y2="-4.07" class="l"/><line x1="-20.31" y1="-15.58" x2="-24.75" y2="-18.99" class="l"/><line x1="-15.58" y1="-20.31" x2="-18.99" y2="-24.75" class="l"/><line x1="-3.34" y1="-25.38" x2="-4.07" y2="-30.93" class="l"/><line x1="3.34" y1="-25.38" x2="4.07" y2="-30.93" class="l"/><line x1="15.58" y1="-20.31" x2="18.99" y2="-24.75" class="l"/><line x1="20.31" y1="-15.58" x2="24.75" y2="-18.99" class="l"/><polygon points="0.00,-18.00 14.81,-9.00 14.81,9.00 0.00,18.00 -14.81,9.00 -14.81,-9.00" class="l"/><circle r="14.3" class="l"/></g>
<text transform="matrix(1 0 0 1.04 1083.00 527.30)" font-size="27.6" text-anchor="start">Relay Type</text>
<rect x="1083.0" y="545.1" width="434.79999999999995" height="32.0" fill="#7ccbe3"/>
<text transform="matrix(1 0 0 1.04 1093.49 568.70)" font-size="20.8" textLength="117.43" lengthAdjust="spacing" class="tb">Relay Name</text>
<text transform="matrix(1 0 0 1.04 1389.53 568.70)" font-size="20.8" textLength="47.79" lengthAdjust="spacing" class="tb">Type</text>
<text transform="matrix(1 0 0 1.04 1094.26 598.40)" font-size="20.8" textLength="104.49" lengthAdjust="spacing" class="tb">Start Relay</text>
<text transform="matrix(1 0 0 1.04 1388.29 598.40)" font-size="20.8" textLength="88.40" lengthAdjust="spacing" class="tb">MINI ISO</text>
<text transform="matrix(1 0 0 1.04 1093.49 627.77)" font-size="20.8" textLength="200.85" lengthAdjust="spacing" class="tb">Engine Control Relay</text>
<text transform="matrix(1 0 0 1.04 1388.29 627.77)" font-size="20.8" textLength="88.40" lengthAdjust="spacing" class="tb">MINI ISO</text>
<text transform="matrix(1 0 0 1.04 1092.39 657.14)" font-size="20.8" textLength="221.65" lengthAdjust="spacing" class="tb">Head Lamp High Relay</text>
<text transform="matrix(1 0 0 1.04 1388.29 657.14)" font-size="20.8" textLength="115.10" lengthAdjust="spacing" class="tb">MICRO ISO</text>
<text transform="matrix(1 0 0 1.04 1094.06 686.51)" font-size="20.8" textLength="126.68" lengthAdjust="spacing" class="tb">A/CON Relay</text>
<text transform="matrix(1 0 0 1.04 1388.29 686.51)" font-size="20.8" textLength="115.10" lengthAdjust="spacing" class="tb">MICRO ISO</text>
<text transform="matrix(1 0 0 1.04 1093.49 715.88)" font-size="20.8" textLength="211.55" lengthAdjust="spacing" class="tb">Front Fog Lamp Relay</text>
<text transform="matrix(1 0 0 1.04 1388.29 715.88)" font-size="20.8" textLength="115.10" lengthAdjust="spacing" class="tb">MICRO ISO</text>
<text transform="matrix(1 0 0 1.04 1093.64 745.25)" font-size="20.8" textLength="271.75" lengthAdjust="spacing" class="tb">Condenser Fan Relay (High)</text>
<text transform="matrix(1 0 0 1.04 1388.29 745.25)" font-size="20.8" textLength="115.10" lengthAdjust="spacing" class="tb">MICRO ISO</text>
<text transform="matrix(1 0 0 1.04 1093.49 774.62)" font-size="20.8" textLength="201.45" lengthAdjust="spacing" class="tb">Back-Up Lamp Relay</text>
<text transform="matrix(1 0 0 1.04 1388.29 774.62)" font-size="20.8" textLength="115.10" lengthAdjust="spacing" class="tb">MICRO ISO</text>
<text transform="matrix(1 0 0 1.04 1093.49 803.99)" font-size="20.8" textLength="163.75" lengthAdjust="spacing" class="tb">Fuel Pump Relay</text>
<text transform="matrix(1 0 0 1.04 1388.29 803.99)" font-size="20.8" textLength="115.10" lengthAdjust="spacing" class="tb">MICRO ISO</text>
<text transform="matrix(1 0 0 1.04 1093.49 833.36)" font-size="20.8" textLength="176.95" lengthAdjust="spacing" class="tb">Rain Sensor Relay</text>
<text transform="matrix(1 0 0 1.04 1388.29 833.36)" font-size="20.8" textLength="115.10" lengthAdjust="spacing" class="tb">MICRO ISO</text>
<text transform="matrix(1 0 0 1.04 1093.49 862.74)" font-size="20.8" textLength="171.35" lengthAdjust="spacing" class="tb">Front Wiper Relay</text>
<text transform="matrix(1 0 0 1.04 1388.29 862.74)" font-size="20.8" textLength="115.10" lengthAdjust="spacing" class="tb">MICRO ISO</text>
<text transform="matrix(1 0 0 1.04 1092.39 892.11)" font-size="20.8" textLength="107.75" lengthAdjust="spacing" class="tb">Horn Relay</text>
<text transform="matrix(1 0 0 1.04 1388.29 892.11)" font-size="20.8" textLength="115.10" lengthAdjust="spacing" class="tb">MICRO ISO</text>
<text transform="matrix(1 0 0 1.04 1093.49 921.48)" font-size="20.8" textLength="238.05" lengthAdjust="spacing" class="tb">Front Wiper Deicer Relay</text>
<text transform="matrix(1 0 0 1.04 1388.29 921.48)" font-size="20.8" textLength="115.10" lengthAdjust="spacing" class="tb">MICRO ISO</text>
<text transform="matrix(1 0 0 1.04 1093.49 950.85)" font-size="20.8" textLength="199.55" lengthAdjust="spacing" class="tb">Rear Defogger Relay</text>
<text transform="matrix(1 0 0 1.04 1388.29 950.85)" font-size="20.8" textLength="88.40" lengthAdjust="spacing" class="tb">MINI ISO</text>
<text transform="matrix(1 0 0 1.04 1092.39 980.22)" font-size="20.8" textLength="268.50" lengthAdjust="spacing" class="tb">Head Lamp Low Relay (RH)</text>
<text transform="matrix(1 0 0 1.04 1388.29 980.22)" font-size="20.8" textLength="115.10" lengthAdjust="spacing" class="tb">MICRO ISO</text>
<text transform="matrix(1 0 0 1.04 1092.39 1009.59)" font-size="20.8" textLength="265.10" lengthAdjust="spacing" class="tb">Head Lamp Low Relay (LH)</text>
<text transform="matrix(1 0 0 1.04 1388.29 1009.59)" font-size="20.8" textLength="115.10" lengthAdjust="spacing" class="tb">MICRO ISO</text>
<text transform="matrix(1 0 0 1.04 1093.63 1038.96)" font-size="20.8" textLength="152.91" lengthAdjust="spacing" class="tb">Tail Lamp Relay</text>
<text transform="matrix(1 0 0 1.04 1388.29 1038.96)" font-size="20.8" textLength="115.10" lengthAdjust="spacing" class="tb">MICRO ISO</text>
<text transform="matrix(1 0 0 1.04 1093.64 1068.33)" font-size="20.8" textLength="267.25" lengthAdjust="spacing" class="tb">Condenser Fan Relay (Low)</text>
<text transform="matrix(1 0 0 1.04 1388.29 1068.33)" font-size="20.8" textLength="115.10" lengthAdjust="spacing" class="tb">MICRO ISO</text>
<rect x="1083.0" y="545.1" width="434.79999999999995" height="531.3000000000001" fill="none" stroke="#111" stroke-width="2.4"/><line x1="1375.3" y1="545.1" x2="1375.3" y2="1076.4" stroke="#111" stroke-width="2.2"/><line x1="1083.0" y1="577.1" x2="1517.8" y2="577.1" stroke="#111" stroke-width="2"/><line x1="1083.0" y1="606.5" x2="1517.8" y2="606.5" stroke="#111" stroke-width="2"/><line x1="1083.0" y1="635.8" x2="1517.8" y2="635.8" stroke="#111" stroke-width="2"/><line x1="1083.0" y1="665.2" x2="1517.8" y2="665.2" stroke="#111" stroke-width="2"/><line x1="1083.0" y1="694.6" x2="1517.8" y2="694.6" stroke="#111" stroke-width="2"/><line x1="1083.0" y1="724.0" x2="1517.8" y2="724.0" stroke="#111" stroke-width="2"/><line x1="1083.0" y1="753.3" x2="1517.8" y2="753.3" stroke="#111" stroke-width="2"/><line x1="1083.0" y1="782.7" x2="1517.8" y2="782.7" stroke="#111" stroke-width="2"/><line x1="1083.0" y1="812.1" x2="1517.8" y2="812.1" stroke="#111" stroke-width="2"/><line x1="1083.0" y1="841.4" x2="1517.8" y2="841.4" stroke="#111" stroke-width="2"/><line x1="1083.0" y1="870.8" x2="1517.8" y2="870.8" stroke="#111" stroke-width="2"/><line x1="1083.0" y1="900.2" x2="1517.8" y2="900.2" stroke="#111" stroke-width="2"/><line x1="1083.0" y1="929.5" x2="1517.8" y2="929.5" stroke="#111" stroke-width="2"/><line x1="1083.0" y1="958.9" x2="1517.8" y2="958.9" stroke="#111" stroke-width="2"/><line x1="1083.0" y1="988.3" x2="1517.8" y2="988.3" stroke="#111" stroke-width="2"/><line x1="1083.0" y1="1017.7" x2="1517.8" y2="1017.7" stroke="#111" stroke-width="2"/><line x1="1083.0" y1="1047.0" x2="1517.8" y2="1047.0" stroke="#111" stroke-width="2"/>
<g fill="none" stroke="#000" stroke-width="2.8"><line x1="384.5" y1="1100.8" x2="411" y2="1128.8"/><line x1="411" y1="1100.8" x2="384.5" y2="1128.8"/></g>
<circle cx="397.6" cy="1102" r="2.9" fill="#000"/>
<circle cx="397.6" cy="1127.5" r="2.9" fill="#000"/>
<circle cx="385.2" cy="1115" r="2.9" fill="#000"/>
<circle cx="409.8" cy="1115" r="2.9" fill="#000"/>
<text transform="matrix(1 0 0 1.04 430.50 1126.30)" font-size="31" text-anchor="start" font-weight="bold" letter-spacing="0.27">USE THE DESIGNATED FUSE AND RELAY ONLY</text>
</svg>
</body></html>
